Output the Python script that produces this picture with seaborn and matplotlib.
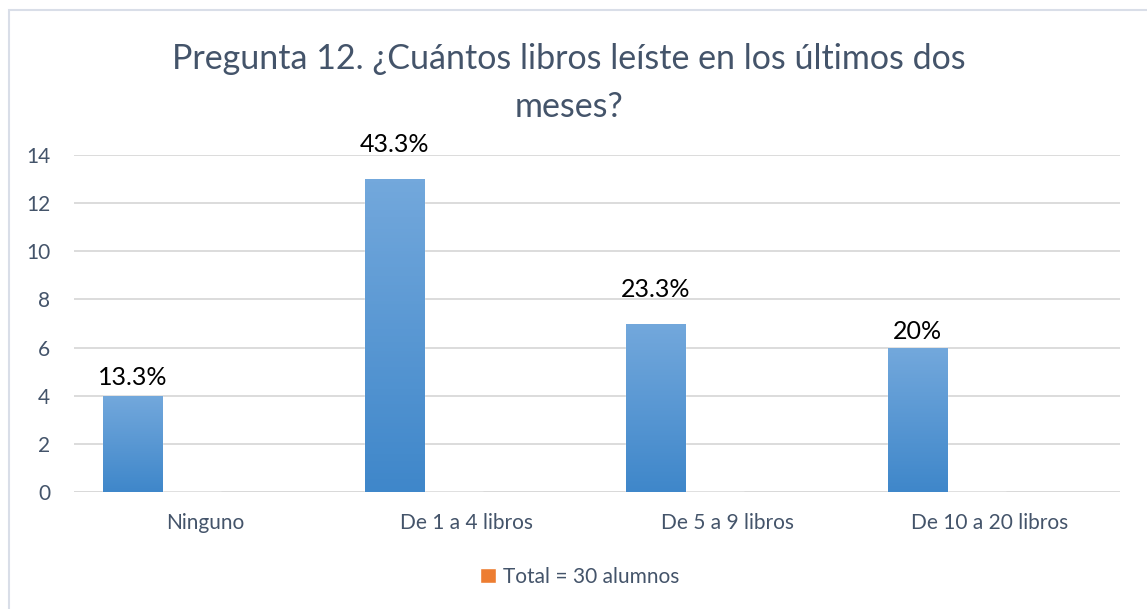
import numpy as np
import pandas as pd
import matplotlib
matplotlib.use("Agg")
import matplotlib.pyplot as plt
from matplotlib.patches import Rectangle
from matplotlib.colors import LinearSegmentedColormap
import seaborn as sns

categorias = ["Ninguno", "De 1 a 4 libros", "De 5 a 9 libros", "De 10 a 20 libros"]
alumnos = [4, 13, 7, 6]
total_serie = [0, 0, 0, 0]
etiquetas = ["13.3%", "43.3%", "23.3%", "20%"]
serie_total = "Total = 30 alumnos"
titulo = "Pregunta 12. ¿Cuántos libros leíste en los últimos dos\nmeses?"

# the labels were dragged by hand in the original, so the gap differs (points)
label_gap = [5, 16.5, 16, 3]

df = pd.DataFrame({
    "categoria": categorias * 2,
    "serie": ["Alumnos"] * 4 + [serie_total] * 4,
    "valor": alumnos + total_serie,
})

sns.set_theme(style="white")
plt.rcParams["font.family"] = ["Lato", "DejaVu Sans"]

texto = "#44546A"
grid_col = "#D9D9D9"

fig = plt.figure(figsize=(11.47, 6.09), dpi=100)
ax = fig.add_axes([74 / 1147, 1 - 492 / 609, (1120 - 74) / 1147, (492 - 155) / 609])

sns.barplot(data=df, x="categoria", y="valor", hue="serie",
            palette=["#5B9BD5", "#ED7D31"], width=0.452, dodge=True,
            saturation=1, ax=ax, zorder=3)

# Excel puts the bar group left of the centre: shift the bars
for p in ax.patches:
    p.set_x(p.get_x() - 0.163)

# gradient fill for the blue bars
cmap = LinearSegmentedColormap.from_list("grad", ["#3F87CA", "#73A8DC"])
blue_bars = [p for p in ax.patches if p.get_height() > 0]
for p, lab, gap in zip(blue_bars, etiquetas, label_gap):
    x0, w, h = p.get_x(), p.get_width(), p.get_height()
    img = ax.imshow(np.linspace(0, 1, 100).reshape(-1, 1), cmap=cmap,
                    extent=[x0, x0 + w, 0, h], origin="lower",
                    aspect="auto", zorder=4)
    img.set_clip_path(p)
    ax.annotate(lab, (x0 + w / 2, h), xytext=(0, gap), textcoords="offset points",
                ha="center", va="bottom", fontsize=18, color="black", zorder=5)

ax.set_xlim(-0.5, 3.5)
ax.set_ylim(0, 14)
ax.set_yticks(range(0, 15, 2))
ax.grid(axis="y", color=grid_col, linewidth=1.3, zorder=0)
ax.set_axisbelow(True)
for s in ax.spines.values():
    s.set_visible(False)
ax.axhline(0, color=grid_col, linewidth=1.3, zorder=2)
ax.set_xlabel("")
ax.set_ylabel("")
ax.tick_params(axis="x", length=0, pad=15, labelsize=15, labelcolor=texto)
ax.tick_params(axis="y", length=0, pad=17, labelsize=15, labelcolor=texto)

# legend: only the empty orange series
handles, labels = ax.get_legend_handles_labels()
ax.legend([handles[1]], [labels[1]], loc="center",
          bbox_to_anchor=(580 / 1147, 1 - 577 / 609), bbox_transform=fig.transFigure,
          frameon=False, fontsize=15, labelcolor=texto,
          handlelength=0.75, handleheight=0.75, handletextpad=0.35)

fig.text(569 / 1147, 1 - 43 / 609, titulo, ha="center", va="top",
         fontsize=24.5, color=texto, linespacing=1.6)

# chart area border
fig.patches.append(Rectangle((9 / 1147, -0.01), 1.0, 1 - 10 / 609 + 0.01,
                             transform=fig.transFigure, fill=False,
                             edgecolor="#D9DEE8", linewidth=1.5))

fig.savefig("out.png", dpi=100)
